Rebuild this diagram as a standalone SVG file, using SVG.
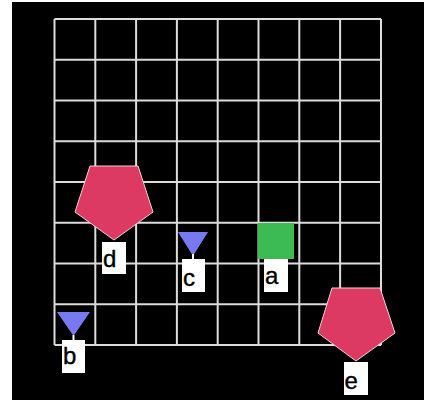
<svg xmlns="http://www.w3.org/2000/svg" width="424" height="400" viewBox="0 0 424 400">
<style>
.grid line{stroke:#dcdcdc;stroke-width:2}
.pent{fill:#dc3a62;stroke:#f4d0d8;stroke-width:1}
.tri{fill:#7878f0}
.sq{fill:#3cba54}
.lbl rect{fill:#fff}
.lbl text{font-family:"Liberation Sans",Arial,sans-serif;font-size:24px;fill:#000;stroke:#000;stroke-width:0.4}
</style>
<rect x="0" y="0" width="424" height="400" fill="#fff"/>
<rect x="12" y="2" width="412" height="398" fill="#000"/>
<g class="grid">
<line x1="54.5" y1="19" x2="54.5" y2="345"/>
<line x1="95.3" y1="19" x2="95.3" y2="345"/>
<line x1="136.1" y1="19" x2="136.1" y2="345"/>
<line x1="176.9" y1="19" x2="176.9" y2="345"/>
<line x1="217.7" y1="19" x2="217.7" y2="345"/>
<line x1="258.5" y1="19" x2="258.5" y2="345"/>
<line x1="299.3" y1="19" x2="299.3" y2="345"/>
<line x1="340.1" y1="19" x2="340.1" y2="345"/>
<line x1="381" y1="19" x2="381" y2="345"/>
<line x1="54.5" y1="19" x2="381" y2="19"/>
<line x1="54.5" y1="59.75" x2="381" y2="59.75"/>
<line x1="54.5" y1="100.5" x2="381" y2="100.5"/>
<line x1="54.5" y1="141.25" x2="381" y2="141.25"/>
<line x1="54.5" y1="182" x2="381" y2="182"/>
<line x1="54.5" y1="222.75" x2="381" y2="222.75"/>
<line x1="54.5" y1="263.5" x2="381" y2="263.5"/>
<line x1="54.5" y1="304.25" x2="381" y2="304.25"/>
<line x1="54.5" y1="345" x2="381" y2="345"/>
</g>
<g id="node-d">
<polygon class="pent" points="90,166 138,166 153,212 114,240 75,212"/>
<g class="lbl"><rect x="102" y="242" width="24" height="32"/><text x="103" y="266.5">d</text></g>
</g>
<g id="node-c">
<polygon class="tri" points="178,232 208,232 193,256"/>
<rect x="192" y="254" width="2" height="5" fill="#fff"/>
<g class="lbl"><rect x="182" y="259" width="23" height="33"/><text x="183" y="286">c</text></g>
</g>
<g id="node-a">
<rect class="sq" x="258" y="223" width="36" height="36"/>
<g class="lbl"><rect x="264" y="259" width="24" height="33"/><text x="265" y="283.5">a</text></g>
</g>
<g id="node-b">
<polygon class="tri" points="57,312 90,312 73.5,336"/>
<rect x="72.5" y="335" width="2" height="5" fill="#fff"/>
<g class="lbl"><rect x="62" y="340" width="23" height="33"/><text x="63" y="363.5">b</text></g>
</g>
<g id="node-e">
<polygon class="pent" points="332,288 380,288 395,333 356,361 318,333"/>
<g class="lbl"><rect x="344" y="362" width="24" height="33"/><text x="344.5" y="388.5">e</text></g>
</g>
<g id="connectors"></g>
</svg>
